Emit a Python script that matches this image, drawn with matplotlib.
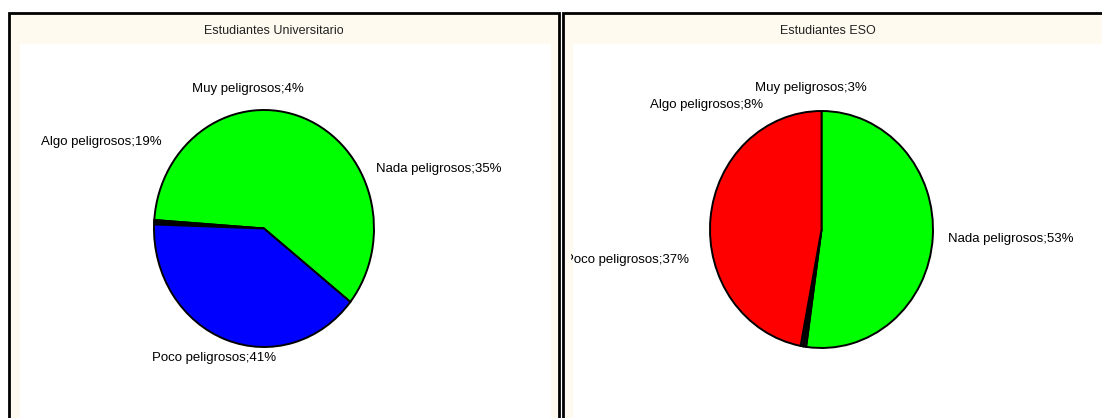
import numpy as np
import matplotlib
matplotlib.use("Agg")
import matplotlib.pyplot as plt
from matplotlib.patches import Rectangle
from matplotlib.transforms import Bbox

plt.rcParams['font.family'] = ['Liberation Sans', 'DejaVu Sans']

W, H = 1102, 418

categories = ['Nada peligrosos', 'Muy peligrosos', 'Algo peligrosos', 'Poco peligrosos']
uni_pct = [35, 4, 19, 41]
eso_pct = [53, 3, 8, 37]
# slice shares as they are actually drawn in the picture
uni_drawn = [0.595, 0.003, 0.003, 0.399]
eso_drawn = [0.522, 0.004, 0.004, 0.470]

uni_colors = ['#00ff00', '#1a3d1a', '#1a3d1a', '#0000ff']
eso_colors = ['#00ff00', '#111111', '#111111', '#ff0000']

cream = '#fffaf0'

fig = plt.figure(figsize=(W / 100, H / 100), dpi=100)
fig.patch.set_facecolor('white')


def px_rect(x0, y0, x1, y1, **kw):
    # rectangle given in pixels from the top-left corner
    r = Rectangle((x0 / W, 1 - y1 / H), (x1 - x0) / W, (y1 - y0) / H,
                  transform=fig.transFigure, zorder=-5, **kw)
    fig.add_artist(r)
    return r


# panel frames
px_rect(9, 13, 558.5, 430, facecolor=cream, edgecolor='black', linewidth=2)
px_rect(20, 44, 551, 430, facecolor='white', edgecolor='none')
px_rect(562.5, 13, 1110, 430, facecolor=cream, edgecolor='black', linewidth=2)
px_rect(573, 44, 1110, 430, facecolor='white', edgecolor='none')


def px_text(x, y, s, clip=None, **kw):
    t = fig.text(x / W, 1 - y / H, s, va='center', zorder=5, **kw)
    if clip is not None:
        t.set_clip_box(Bbox.from_extents(clip[0], H - clip[3], clip[2], H - clip[1]))
        t.set_clip_on(True)
    return t


px_text(204, 31.5, 'Estudiantes Universitarios', ha='left', fontsize=9,
        color='#222222', clip=(20, 14, 343, 44))
px_text(828, 31.5, 'Estudiantes ESO', ha='center', fontsize=9, color='#222222')


def draw_pie(cx, cy, rx, ry, shares, colors, start, ccw):
    ax = fig.add_axes([(cx - 1.25 * rx) / W, (H - cy - 1.25 * ry) / H,
                       2.5 * rx / W, 2.5 * ry / H])
    ax.set_zorder(2)
    ax.pie(shares, colors=colors, startangle=start, counterclock=ccw,
           wedgeprops=dict(edgecolor='black', linewidth=1.4))
    ax.set_aspect('auto')
    ax.set_xlim(-1.25, 1.25)
    ax.set_ylim(-1.25, 1.25)
    ax.axis('off')
    return ax


draw_pie(264, 228.5, 110, 118.5, uni_drawn, uni_colors, -38.3, True)
draw_pie(821.5, 229.5, 111.5, 118.5, eso_drawn, eso_colors, 90, False)

# label positions (left edge, centre y) in pixels, same order as categories
uni_label_pos = [(376, 169), (192, 89), (41, 142), (152, 358)]
eso_label_pos = [(948, 239), (755, 88), (650, 105), (565, 260)]

for cat, pct, (x, y) in zip(categories, uni_pct, uni_label_pos):
    px_text(x, y, f'{cat};{pct}%', ha='left', fontsize=9.5,
            clip=(20, 44, 551, 418))
for cat, pct, (x, y) in zip(categories, eso_pct, eso_label_pos):
    px_text(x, y, f'{cat};{pct}%', ha='left', fontsize=9.5,
            clip=(571, 44, 1102, 418))

fig.savefig('out.png', dpi=100)
